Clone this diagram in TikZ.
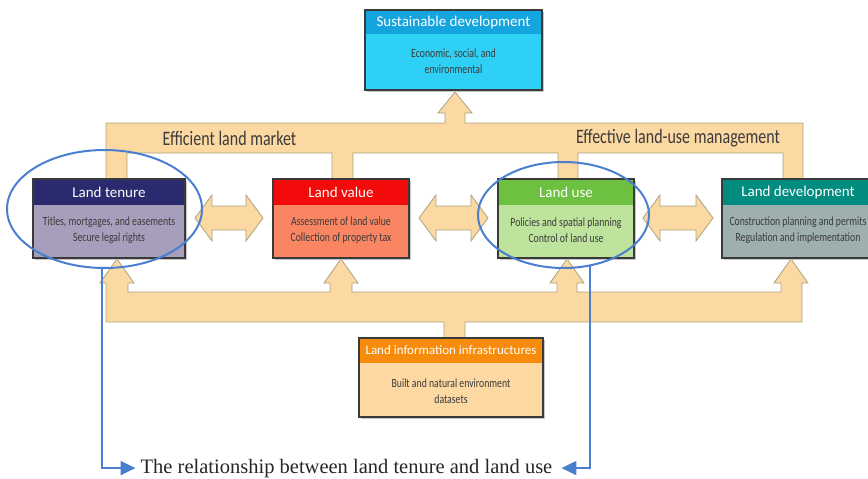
\documentclass[tikz,border=0pt]{standalone}
\usepackage{fontspec}
\setmainfont{Carlito}
\newfontfamily\condfont[FakeStretch=0.78]{Carlito}
\newfontfamily\capfont{Liberation Serif}
\usetikzlibrary{arrows.meta,shapes.geometric}

\definecolor{arrowfill}{HTML}{FCD8A3}
\definecolor{arrowedge}{HTML}{A9A37E}
\definecolor{frameline}{HTML}{3A3A3A}
\definecolor{bodytext}{HTML}{3B3B3B}
\definecolor{ringblue}{HTML}{4A7FCF}
\definecolor{sustH}{HTML}{14A4DE}
\definecolor{sustB}{HTML}{2FD0F5}
\definecolor{tenH}{HTML}{2A2B6E}
\definecolor{tenB}{HTML}{A69EBB}
\definecolor{valH}{HTML}{F30A0A}
\definecolor{valB}{HTML}{F98563}
\definecolor{useH}{HTML}{6DC040}
\definecolor{useB}{HTML}{BEE39C}
\definecolor{devH}{HTML}{008C7E}
\definecolor{devB}{HTML}{9DAFAE}
\definecolor{infH}{HTML}{F78B0B}
\definecolor{infB}{HTML}{FDD8A2}

% panel with coloured header strip: x1, y1, x2, y2, header bottom, header colour, body colour
\newcommand\LandBox[7]{%
  \fill[black!22] (#1+2,#2+2) rectangle (#3+2,#4+2);
  \fill[#7] (#1,#5) rectangle (#3,#4);
  \fill[#6] (#1,#2) rectangle (#3,#5);
  \draw[frame] (#1,#2) rectangle (#3,#4);}

% two-headed block arrow between neighbouring panels
\newcommand\TwoWay[2]{%
  \draw[band] (#1,218) -- (#1+17,195) -- (#1+17,206) -- (#2-17,206) -- (#2-17,195)
    -- (#2,218) -- (#2-17,241) -- (#2-17,230) -- (#1+17,230) -- (#1+17,241) -- cycle;}

\begin{document}
\begin{tikzpicture}[x=1pt,y=-1pt,
  band/.style={fill=arrowfill, draw=arrowedge, line width=0.8pt, line join=miter},
  frame/.style={draw=frameline, line width=1.4pt},
  title/.style={text=white, font=\fontsize{15}{16}\selectfont, inner sep=0pt},
  body/.style={text=bodytext, font=\condfont\fontsize{12.5}{16}\selectfont, align=center, inner sep=0pt},
  bandlabel/.style={text=bodytext, font=\condfont\fontsize{20.5}{22}\selectfont, inner sep=0pt},
  ring/.style={ellipse, draw=ringblue, line width=2pt, inner sep=0pt},
  link/.style={draw=ringblue, line width=2pt, -{Triangle[width=14pt,length=15pt]}}]
\useasboundingbox (0,0) rectangle (868,479);
\clip (0,0) rectangle (868,479);

% upper band feeding sustainable development
\draw[band] (106,179) -- (106,123) -- (445,123) -- (445,113) -- (438,113) -- (455,92)
  -- (472,113) -- (465,113) -- (465,123) -- (803,123) -- (803,179) -- (783,179)
  -- (783,153) -- (578,153) -- (578,179) -- (558,179) -- (558,153) -- (353,153)
  -- (353,179) -- (332,179) -- (332,153) -- (127,153) -- (127,179) -- cycle;

% lower band from land information infrastructures
\draw[band] (106,322) -- (106,283) -- (100,283) -- (117,259) -- (134,283) -- (128,283)
  -- (128,292) -- (330,292) -- (330,283) -- (324,283) -- (341,259) -- (358,283)
  -- (352,283) -- (352,292) -- (557,292) -- (557,283) -- (550,283) -- (567,259)
  -- (584,283) -- (577,283) -- (577,292) -- (781,292) -- (781,283) -- (774,283)
  -- (791,259) -- (808,283) -- (802,283) -- (802,322) -- (465,322) -- (465,338)
  -- (444,338) -- (444,322) -- cycle;

\TwoWay{195}{263}
\TwoWay{419}{488}
\TwoWay{643}{713}

\node[bandlabel] (market) at (229.5,138) {Efficient land market};
\node[bandlabel] (manage) at (678,138) {Effective land-use management};

% panels
\LandBox{365}{10}{542}{90}{34}{sustH}{sustB}
\node[title] (sustT) at (453.5,22.5) {Sustainable development};
\node[body] (sustX) at (453.5,61.5) {Economic, social, and\\environmental};

\LandBox{33}{179}{185}{258}{205}{tenH}{tenB}
\node[title] (tenT) at (109,192) {Land tenure};
\node[body] (tenX) at (109,230) {Titles, mortgages, and easements\\Secure legal rights};

\LandBox{273}{179}{409}{258}{205}{valH}{valB}
\node[title] (valT) at (341,192) {Land value};
\node[body] (valX) at (341,230) {Assessment of land value\\Collection of property tax};

\LandBox{498}{179}{634}{258}{205}{useH}{useB}
\node[title] (useT) at (566,192) {Land use};
\node[body] (useX) at (566,230) {Policies and spatial planning\\Control of land use};

\LandBox{722}{179}{874}{258}{205}{devH}{devB}
\node[title] (devT) at (798,192) {Land development};
\node[body] (devX) at (798,230) {Construction planning and permits\\Regulation and implementation};

\LandBox{359}{338}{543}{417}{363}{infH}{infB}
\node[title, font=\fontsize{13}{14}\selectfont] (infT) at (451,350.5) {Land information infrastructures};
\node[body] (infX) at (451,391) {Built and natural environment\\datasets};

% highlight rings and their link to the caption
\node[ring, minimum width=195pt, minimum height=118pt] (tenRing) at (104.5,209) {};
\node[ring, minimum width=171pt, minimum height=106pt] (useRing) at (563.5,215) {};

\node[font=\capfont\fontsize{20.5}{22}\selectfont, text=black!85, inner sep=0pt, anchor=base]
  (cap) at (346.5,473) {The relationship between land tenure and land use};

\draw[link] (tenRing.268) |- ([xshift=-5pt]cap.west);
\draw[link] (useRing.297) |- ([xshift=9pt]cap.east);
\end{tikzpicture}
\end{document}
